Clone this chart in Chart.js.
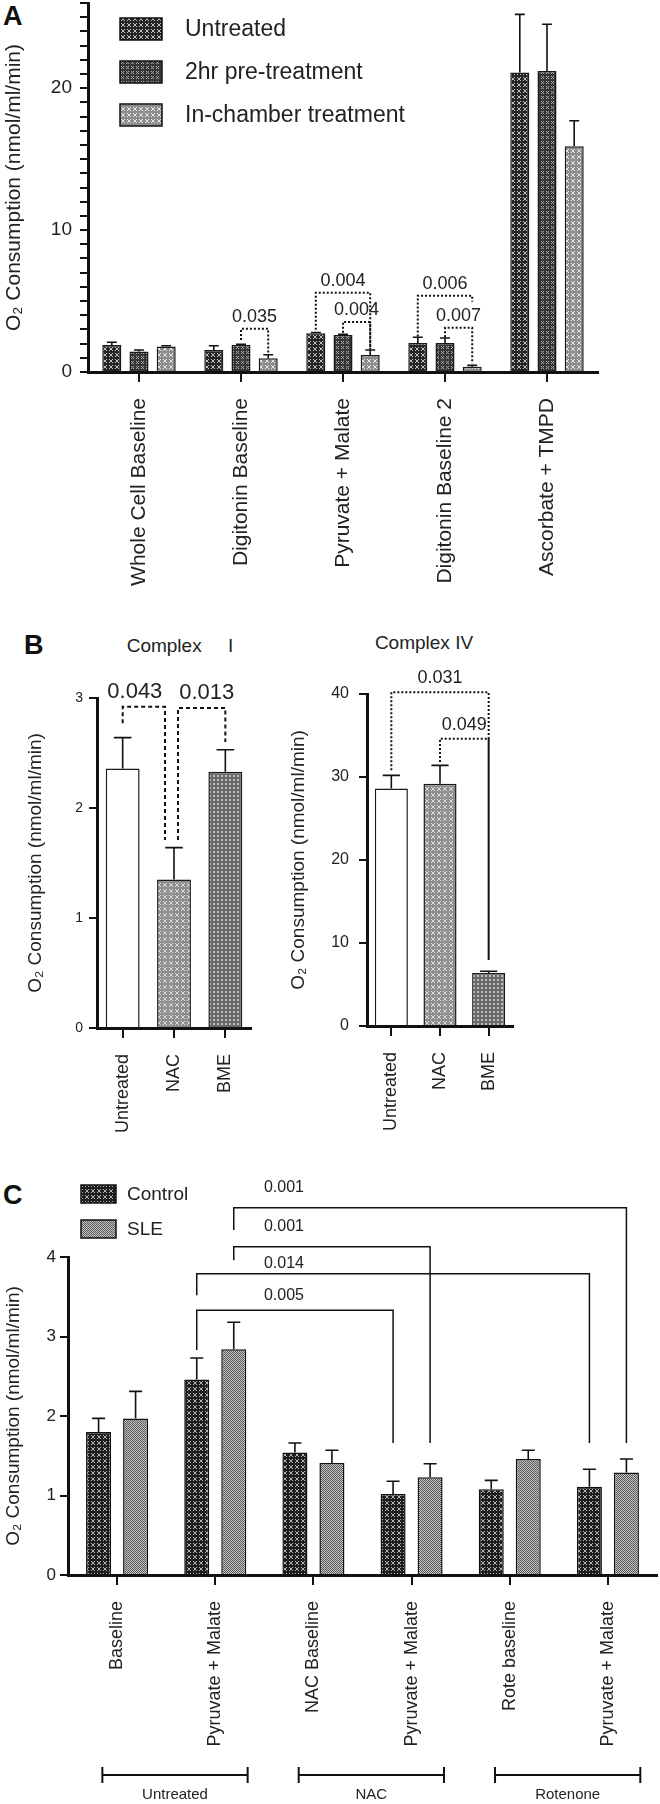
<!DOCTYPE html>
<html lang="en">
<head>
<meta charset="UTF-8">
<title>O2 consumption</title>
<script src="https://cdn.jsdelivr.net/npm/chart.js"></script>
<style>
  body { margin: 0; background: #fff; font-family: 'Liberation Sans', Arial, sans-serif; color: #111; }
  #page { position: relative; width: 660px; height: 1804px; overflow: hidden; }
  canvas { position: absolute; }
  .tag { position: absolute; font-weight: bold; font-size: 27px; line-height: 1; }
  .sub { position: absolute; font-size: 19px; line-height: 1; white-space: pre; transform: translateX(-50%); color: #222; }
</style>
</head>
<body>
<div id="page">
  <div class="tag" style="left:3px;top:3px">A</div>
  <div class="tag" style="left:24px;top:632px">B</div>
  <div class="tag" style="left:3px;top:1182px">C</div>
  <div class="sub" style="left:180px;top:636px">Complex     I</div>
  <div class="sub" style="left:424px;top:633px">Complex IV</div>

  <canvas id="chartA" width="660" height="640" style="left:0;top:-20px"></canvas>
  <canvas id="chartB1" width="300" height="540" style="left:0;top:630px"></canvas>
  <canvas id="chartB2" width="380" height="540" style="left:280px;top:630px"></canvas>
  <canvas id="chartC" width="660" height="634" style="left:0;top:1170px"></canvas>
</div>

<script>
// ---- panel A data
const catsA = ['Whole Cell Baseline', 'Digitonin Baseline', 'Pyruvate + Malate', 'Digitonin Baseline 2', 'Ascorbate + TMPD'];
const untreatedA = [1.9, 1.55, 2.73, 2.05, 21.1];
const untreatedErrA = [0.2, 0.3, 0.05, 0.4, 4.1];
const pretreatA = [1.45, 1.9, 2.6, 2.05, 21.2];
const pretreatErrA = [0.1, 0.05, 0.05, 0.35, 3.3];
const inchamberA = [1.8, 0.97, 1.2, 0.37, 15.9];
const inchamberErrA = [0.05, 0.25, 0.35, 0.1, 1.8];

// ---- panel B data
const catsB = ['Untreated', 'NAC', 'BME'];
const complexI = [2.36, 1.35, 2.33];
const complexIErr = [0.28, 0.29, 0.2];
const complexIV = [28.6, 29.2, 6.4];
const complexIVErr = [1.6, 2.2, 0.2];

// ---- panel C data
const catsC = ['Baseline', 'Pyruvate + Malate', 'NAC Baseline', 'Pyruvate + Malate', 'Rote baseline', 'Pyruvate + Malate'];
const controlC = [1.80, 2.46, 1.54, 1.02, 1.08, 1.11];
const controlErrC = [0.17, 0.27, 0.12, 0.16, 0.11, 0.22];
const sleC = [1.97, 2.84, 1.41, 1.23, 1.46, 1.29];
const sleErrC = [0.34, 0.34, 0.16, 0.17, 0.11, 0.17];
const groupNamesC = ['Untreated', 'NAC', 'Rotenone'];
const groupFromC = [0, 2, 4];
const groupToC = [1, 3, 5];

// p values
const pA = ['0.035', '0.004', '0.004', '0.006', '0.007'];
const pB1 = ['0.043', '0.013'];
const pB2 = ['0.031', '0.049'];
const pC = ['0.001', '0.001', '0.014', '0.005'];

const yTitle = 'O\u2082 Consumption (nmol/ml/min)';
Chart.defaults.font.family = "'Liberation Sans', Arial, sans-serif";
Chart.defaults.color = '#222';

// tiny repeating tiles for the hatched bars
function hatch(id, bg, fg, size, mode) {
  const c = document.createElement('canvas');
  c.width = c.height = size;
  const g = c.getContext('2d');
  g.fillStyle = bg;
  g.fillRect(0, 0, size, size);
  g.fillStyle = fg;
  g.strokeStyle = fg;
  g.lineWidth = 1;
  if (mode === 'x') {
    g.beginPath();
    g.moveTo(1, 1); g.lineTo(size - 1, size - 1);
    g.moveTo(size - 1, 1); g.lineTo(1, size - 1);
    g.stroke();
  } else {
    g.fillRect(0, 0, 1, 1);
    g.fillRect(1, 1, 1, 1);
  }
  return document.getElementById(id).getContext('2d').createPattern(c, 'repeat');
}

const errorBars = {
  id: 'errorBars',
  afterDatasetsDraw(chart) {
    const ctx = chart.ctx, y = chart.scales.y;
    chart.data.datasets.forEach((ds, i) => {
      if (!ds.errors) return;
      chart.getDatasetMeta(i).data.forEach((bar, j) => {
        const top = y.getPixelForValue(ds.data[j] + ds.errors[j]);
        const cap = bar.width * 0.26;
        ctx.save();
        ctx.strokeStyle = '#111';
        ctx.lineWidth = 1.6;
        ctx.beginPath();
        ctx.moveTo(bar.x, bar.y);
        ctx.lineTo(bar.x, top);
        ctx.moveTo(bar.x - cap, top);
        ctx.lineTo(bar.x + cap, top);
        ctx.stroke();
        ctx.restore();
      });
    });
  }
};

const brackets = {
  id: 'brackets',
  afterDraw(chart, args, o) {
    if (!o.items) return;
    const ctx = chart.ctx, y = chart.scales.y, x = chart.scales.x;
    o.items.forEach(b => {
      const x0 = chart.getDatasetMeta(b.ds0).data[b.cat0].x + (b.dx0 || 0);
      const x1 = chart.getDatasetMeta(b.ds1).data[b.cat1].x + (b.dx1 || 0);
      const yt = y.getPixelForValue(b.top);
      ctx.save();
      ctx.strokeStyle = '#111';
      ctx.lineWidth = o.width || 1.5;
      ctx.setLineDash(o.dash || []);
      ctx.beginPath();
      ctx.moveTo(x0, y.getPixelForValue(b.end0));
      ctx.lineTo(x0, yt);
      ctx.lineTo(x1, yt);
      ctx.lineTo(x1, y.getPixelForValue(b.end1));
      ctx.stroke();
      ctx.setLineDash([]);
      ctx.fillStyle = '#222';
      ctx.font = o.font;
      ctx.textAlign = 'center';
      ctx.textBaseline = 'middle';
      const lx = b.labelCat !== undefined ? x.getPixelForValue(b.labelCat) : (x0 + x1) / 2 + (b.ldx || 0);
      const ly = b.labelY !== undefined ? y.getPixelForValue(b.labelY) : yt - (o.gap || 13);
      ctx.fillText(b.text, lx, ly);
      ctx.restore();
    });
  }
};

const boxLegend = {
  id: 'boxLegend',
  afterDraw(chart, args, o) {
    if (o.x === undefined) return;
    const ctx = chart.ctx;
    chart.data.datasets.forEach((ds, i) => {
      const top = o.y + i * o.dy;
      ctx.save();
      ctx.fillStyle = ds.backgroundColor;
      ctx.fillRect(o.x, top, o.w, o.h);
      ctx.strokeStyle = '#111';
      ctx.lineWidth = 1.5;
      ctx.strokeRect(o.x, top, o.w, o.h);
      ctx.fillStyle = '#222';
      ctx.font = o.font;
      ctx.textBaseline = 'middle';
      ctx.fillText(ds.label, o.x + o.w + o.gap, top + o.h / 2 + 1);
      ctx.restore();
    });
  }
};

const groupBrackets = {
  id: 'groupBrackets',
  afterDraw(chart, args, o) {
    if (!o.names) return;
    const ctx = chart.ctx, x = chart.scales.x;
    const step = x.getPixelForValue(1) - x.getPixelForValue(0);
    const yl = chart.chartArea.bottom + o.offset;
    o.names.forEach((name, i) => {
      const a = x.getPixelForValue(o.from[i]) - 0.15 * step;
      const b = x.getPixelForValue(o.to[i]) + 0.33 * step;
      ctx.save();
      ctx.strokeStyle = '#111';
      ctx.lineWidth = 2;
      ctx.beginPath();
      ctx.moveTo(a, yl); ctx.lineTo(b, yl);
      ctx.moveTo(a, yl - 8); ctx.lineTo(a, yl + 8);
      ctx.moveTo(b, yl - 8); ctx.lineTo(b, yl + 8);
      ctx.stroke();
      ctx.fillStyle = '#222';
      ctx.font = o.font;
      ctx.textAlign = 'center';
      ctx.textBaseline = 'middle';
      ctx.fillText(name, (a + b) / 2, yl + 20);
      ctx.restore();
    });
  }
};

function xAxis(height, size, pad) {
  return {
    grid: { offset: false, drawOnChartArea: false, tickLength: 10, color: '#111', lineWidth: 2 },
    border: { color: '#111', width: 3 },
    ticks: { minRotation: 90, maxRotation: 90, autoSkip: false, padding: pad, font: { size: size }, color: '#222' },
    afterFit: s => { s.height = height; }
  };
}

function yAxis(width, max, step, size, titleSize, titlePad, tickPad, cb) {
  return {
    min: 0, max: max,
    grid: { drawOnChartArea: false, tickLength: 8, color: '#111', lineWidth: 2 },
    border: { color: '#111', width: 3 },
    ticks: { stepSize: step, autoSkip: false, padding: tickPad, font: { size: size }, color: '#222', callback: cb },
    title: { display: true, text: yTitle, font: { size: titleSize }, padding: { top: titlePad, bottom: 0 }, color: '#222' },
    afterFit: s => { s.width = width; }
  };
}

// ---- A
new Chart(document.getElementById('chartA'), {
  type: 'bar',
  data: {
    labels: catsA,
    datasets: [
      { label: 'Untreated', data: untreatedA, errors: untreatedErrA, backgroundColor: hatch('chartA', '#262626', '#c0c0c0', 6, 'x') },
      { label: '2hr pre-treatment', data: pretreatA, errors: pretreatErrA, backgroundColor: hatch('chartA', '#363636', '#a8a8a8', 5, 'x') },
      { label: 'In-chamber treatment', data: inchamberA, errors: inchamberErrA, backgroundColor: hatch('chartA', '#8c8c8c', '#e6e6e6', 6, 'x') }
    ]
  },
  options: {
    responsive: false, animation: false,
    layout: { padding: { left: 0, right: 62, top: 23, bottom: 0 } },
    datasets: { bar: { categoryPercentage: 0.8, barPercentage: 0.7, borderColor: '#1a1a1a', borderWidth: 1.5 } },
    scales: {
      x: xAxis(248, 21, 16),
      y: yAxis(88, 26, 1, 19, 21, 2, 8, v => (v % 10 === 0 ? v : ''))
    },
    plugins: {
      legend: { display: false }, tooltip: { enabled: false },
      boxLegend: { x: 120, y: 38, dy: 43, w: 42, h: 22, gap: 23, font: "23px 'Liberation Sans', Arial, sans-serif" },
      brackets: {
        font: "18px 'Liberation Sans', Arial, sans-serif", dash: [2, 2], width: 2, gap: 12,
        items: [
          { cat0: 1, ds0: 1, cat1: 1, ds1: 2, top: 3.04, end0: 2.26, end1: 1.25, text: pA[0] },
          { cat0: 2, ds0: 0, cat1: 2, ds1: 2, top: 5.58, end0: 2.97, end1: 1.6, text: pA[1] },
          { cat0: 2, ds0: 1, cat1: 2, ds1: 2, top: 3.53, end0: 2.76, end1: 1.6, text: pA[2] },
          { cat0: 3, ds0: 0, cat1: 3, ds1: 2, top: 5.37, end0: 2.5, end1: 4.95, text: pA[3] },
          { cat0: 3, ds0: 1, cat1: 3, ds1: 2, top: 3.11, end0: 2.45, end1: 0.6, text: pA[4] }
        ]
      }
    }
  },
  plugins: [errorBars, brackets, boxLegend]
});

// ---- B, complex I
new Chart(document.getElementById('chartB1'), {
  type: 'bar',
  data: {
    labels: catsB,
    datasets: [{
      label: 'Complex I', data: complexI, errors: complexIErr,
      backgroundColor: ['#ffffff', hatch('chartB1', '#8e8e8e', '#dcdcdc', 6, 'x'), hatch('chartB1', '#6a6a6a', '#bdbdbd', 4, 'x')]
    }]
  },
  options: {
    responsive: false, animation: false,
    layout: { padding: { left: 0, right: 49, top: 68, bottom: 0 } },
    datasets: { bar: { categoryPercentage: 1, barPercentage: 0.66, borderColor: '#1a1a1a', borderWidth: 1.5 } },
    scales: {
      x: xAxis(142, 18, 16),
      y: yAxis(97, 3, 1, 14, 19, 24, 6)
    },
    plugins: {
      legend: { display: false }, tooltip: { enabled: false },
      brackets: {
        font: "22px 'Liberation Sans', Arial, sans-serif", dash: [4, 3], width: 2, gap: 15,
        items: [
          { cat0: 0, ds0: 0, cat1: 1, ds1: 0, dx1: -9, top: 2.92, end0: 2.77, end1: 1.71, text: pB1[0], ldx: -9 },
          { cat0: 1, ds0: 0, cat1: 2, ds1: 0, dx0: 4, top: 2.91, end0: 1.71, end1: 2.6, text: pB1[1], ldx: 5 }
        ]
      }
    }
  },
  plugins: [errorBars, brackets]
});

// ---- B, complex IV
new Chart(document.getElementById('chartB2'), {
  type: 'bar',
  data: {
    labels: catsB,
    datasets: [{
      label: 'Complex IV', data: complexIV, errors: complexIVErr,
      backgroundColor: ['#ffffff', hatch('chartB2', '#8e8e8e', '#dcdcdc', 6, 'x'), hatch('chartB2', '#6a6a6a', '#bdbdbd', 4, 'x')]
    }]
  },
  options: {
    responsive: false, animation: false,
    layout: { padding: { left: 0, right: 147, top: 64, bottom: 0 } },
    datasets: { bar: { categoryPercentage: 1, barPercentage: 0.68, borderColor: '#1a1a1a', borderWidth: 1.5 } },
    scales: {
      x: xAxis(144, 18, 16),
      y: yAxis(87, 40, 10, 16, 19, 7, 10)
    },
    plugins: {
      legend: { display: false }, tooltip: { enabled: false },
      brackets: {
        font: "18px 'Liberation Sans', Arial, sans-serif", dash: [2, 2], width: 2, gap: 14,
        items: [
          { cat0: 0, ds0: 0, cat1: 2, ds1: 0, top: 40.2, end0: 30.8, end1: 7.95, text: pB2[0] },
          { cat0: 1, ds0: 0, cat1: 2, ds1: 0, top: 34.6, end0: 31.8, end1: 7.95, text: pB2[1] }
        ]
      }
    }
  },
  plugins: [errorBars, brackets]
});

// ---- C
new Chart(document.getElementById('chartC'), {
  type: 'bar',
  data: {
    labels: catsC,
    datasets: [
      { label: 'Control', data: controlC, errors: controlErrC, backgroundColor: hatch('chartC', '#1e1e1e', '#b4b4b4', 6, 'x') },
      { label: 'SLE', data: sleC, errors: sleErrC, backgroundColor: hatch('chartC', '#c4c4c4', '#5a5a5a', 2, 'dot') }
    ]
  },
  options: {
    responsive: false, animation: false,
    layout: { padding: { left: 0, right: 3, top: 87, bottom: 0 } },
    datasets: { bar: { categoryPercentage: 0.754, barPercentage: 0.676, borderColor: '#111', borderWidth: 1.5 } },
    scales: {
      x: xAxis(229, 18, 16),
      y: yAxis(68, 4, 1, 17, 19, 2, 4)
    },
    plugins: {
      legend: { display: false }, tooltip: { enabled: false },
      boxLegend: { x: 81, y: 15, dy: 35, w: 35, h: 18, gap: 11, font: "19px 'Liberation Sans', Arial, sans-serif" },
      brackets: {
        font: "16px 'Liberation Sans', Arial, sans-serif", width: 1.5,
        items: [
          { cat0: 1, ds0: 1, cat1: 5, ds1: 1, top: 4.62, end0: 4.34, end1: 1.66, text: pC[0], labelCat: 1.7, labelY: 4.87 },
          { cat0: 1, ds0: 1, cat1: 3, ds1: 1, top: 4.13, end0: 3.96, end1: 1.66, text: pC[1], labelCat: 1.7, labelY: 4.38 },
          { cat0: 1, ds0: 0, cat1: 5, ds1: 0, top: 3.79, end0: 3.52, end1: 1.66, text: pC[2], labelCat: 1.7, labelY: 3.92 },
          { cat0: 1, ds0: 0, cat1: 3, ds1: 0, top: 3.33, end0: 2.83, end1: 1.66, text: pC[3], labelCat: 1.7, labelY: 3.52 }
        ]
      },
      groupBrackets: { names: groupNamesC, from: groupFromC, to: groupToC, offset: 200, font: "15px 'Liberation Sans', Arial, sans-serif" }
    }
  },
  plugins: [errorBars, brackets, boxLegend, groupBrackets]
});
</script>
</body>
</html>
